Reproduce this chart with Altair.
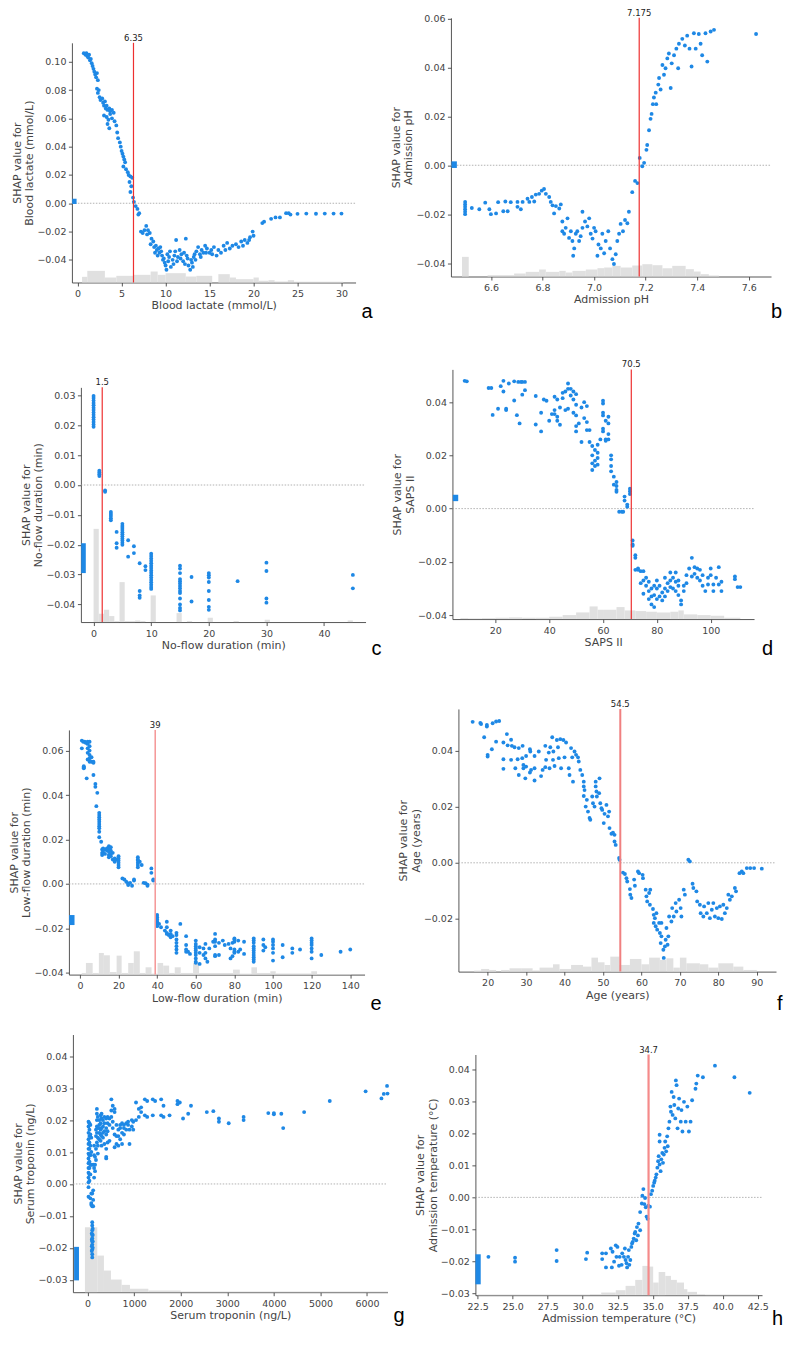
import altair as alt
import pandas as pd

BLUE = "#1E88E5"
HIST = "#e0e0e0"
INK = "#444444"

# ---------------- data ----------------
# a: Blood lactate
A_PTS = [(0.7,0.106),(0.9,0.105),(1.0,0.106),(1.1,0.104),(1.2,0.103),(1.3,0.105),(1.4,0.101),(1.5,0.102),(1.6,0.099),(1.7,0.097),
(1.8,0.095),(1.9,0.093),(2.0,0.091),(2.1,0.089),(2.2,0.092),(2.3,0.087),(2.2,0.081),(2.4,0.080),(2.3,0.078),(2.5,0.075),(2.6,0.073),
(2.8,0.074),(2.9,0.071),(3.0,0.069),(3.1,0.072),(3.2,0.067),(3.3,0.069),(3.4,0.066),(3.6,0.067),(3.7,0.065),(3.9,0.066),(4.1,0.064),
(3.0,0.062),(3.3,0.061),(3.5,0.059),(3.7,0.063),(3.4,0.056),(3.9,0.060),(4.2,0.058),(4.4,0.055),(3.6,0.053),(4.5,0.050),(4.6,0.046),
(4.8,0.043),(4.9,0.040),(5.0,0.037),(5.1,0.035),(5.2,0.033),(5.3,0.031),(5.4,0.029),(5.2,0.026),(5.5,0.024),(5.7,0.022),(5.8,0.020),
(6.0,0.019),(6.2,0.018),(5.9,0.015),(6.1,0.012),(6.0,0.008),(6.3,0.004),(6.4,0.001),(6.6,-0.002),(6.8,-0.004),(7.0,-0.007),(6.9,-0.008),
(7.2,-0.020),(7.4,-0.021),(7.6,-0.019),(7.8,-0.016),(8.0,-0.019),(8.2,-0.021),(8.4,-0.025),(8.6,-0.027),(8.7,-0.031),(8.9,-0.030),
(9.0,-0.033),(9.2,-0.032),(9.3,-0.035),(9.5,-0.034),(9.6,-0.037),(9.8,-0.039),(9.9,-0.042),(10.0,-0.044),(10.1,-0.047),(10.3,-0.041),
(10.4,-0.038),(10.6,-0.045),(10.8,-0.040),(11.0,-0.037),(11.1,-0.034),(11.2,-0.026),(11.4,-0.038),(11.6,-0.033),(11.8,-0.036),
(12.0,-0.041),(12.1,-0.035),(12.3,-0.025),(12.5,-0.039),(12.6,-0.044),(12.8,-0.047),(13.0,-0.042),(13.2,-0.038),(13.3,-0.036),
(13.5,-0.034),(13.7,-0.031),(13.9,-0.036),(14.1,-0.033),(14.3,-0.035),(14.5,-0.030),(14.7,-0.032),(15.0,-0.035),(15.2,-0.033),
(15.5,-0.031),(15.8,-0.037),(16.0,-0.033),(16.3,-0.035),(16.6,-0.030),(17.0,-0.028),(17.3,-0.032),(17.6,-0.030),(18.0,-0.029),
(18.3,-0.031),(18.6,-0.027),(19.0,-0.026),(19.3,-0.028),(19.6,-0.024),(19.9,-0.020),(20.0,-0.023),(21.0,-0.014),(21.2,-0.013),
(22.0,-0.011),(22.5,-0.010),(23.0,-0.010),(23.7,-0.007),(24.0,-0.007),(24.2,-0.008),(25.0,-0.0075),(26.0,-0.0073),(27.1,-0.0074),
(28.1,-0.0073),(29.1,-0.0073),(30.0,-0.0073),(8.8,-0.035),(9.1,-0.037),(9.4,-0.031),(9.7,-0.040),(10.2,-0.036),(10.5,-0.034),
(10.9,-0.043),(11.3,-0.041),(11.7,-0.039),(12.2,-0.043),(12.4,-0.037),(12.9,-0.040),(13.1,-0.045),(13.4,-0.040),(14.0,-0.038),
(14.6,-0.035),(15.3,-0.036),(16.8,-0.033),(18.8,-0.030),(19.5,-0.026),(7.9,-0.022),(8.3,-0.029)]
A_HIST = [(0.5,1.1,17),(1.1,3.1,35),(3.1,4.4,15),(4.4,6.3,20),(6.3,8.3,23),(8.3,9.1,33),(9.1,10,23),(10,12.3,28),(12.3,13.5,18),
(13.5,15.3,20),(16,17.3,25),(17.3,18,15),(18,20,10),(20,20.6,15),(20.6,21.7,5),(21.7,22.4,7),(22.4,23.9,3),(23.9,24.6,7),(24.6,30.2,2)]
A_NAN = [(-0.62, -0.12, -0.0005, 0.0032)]

# b: Admission pH
B_PTS = [(6.50,-0.015),(6.50,-0.016),(6.50,-0.017),(6.50,-0.018),(6.50,-0.019),(6.50,-0.020),(6.526,-0.0175),(6.555,-0.018),
(6.578,-0.0153),(6.594,-0.018),(6.60,-0.020),(6.62,-0.0197),(6.628,-0.0151),(6.648,-0.0188),(6.656,-0.0148),(6.665,-0.0188),
(6.677,-0.0151),(6.703,-0.015),(6.703,-0.017),(6.716,-0.018),(6.723,-0.015),(6.742,-0.0137),(6.749,-0.015),(6.759,-0.013),
(6.768,-0.0148),(6.774,-0.012),(6.787,-0.0117),(6.797,-0.0104),(6.806,-0.0097),(6.813,-0.0117),(6.826,-0.013),(6.832,-0.015),
(6.839,-0.0164),(6.845,-0.0197),(6.852,-0.0167),(6.865,-0.0177),(6.871,-0.016),(6.877,-0.023),(6.877,-0.027),(6.884,-0.028),
(6.890,-0.0256),(6.897,-0.0217),(6.903,-0.0297),(6.910,-0.027),(6.916,-0.031),(6.919,-0.037),(6.923,-0.034),(6.929,-0.028),
(6.935,-0.027),(6.942,-0.031),(6.948,-0.029),(6.955,-0.019),(6.955,-0.0256),(6.965,-0.023),(6.974,-0.025),(6.981,-0.0217),
(6.987,-0.028),(6.994,-0.030),(7.0,-0.0256),(7.006,-0.027),(7.013,-0.037),(7.017,-0.0324),(7.026,-0.034),(7.032,-0.028),
(7.039,-0.036),(7.045,-0.031),(7.055,-0.027),(7.062,-0.034),(7.071,-0.0384),(7.077,-0.0404),(7.084,-0.0364),(7.090,-0.031),
(7.097,-0.028),(7.103,-0.024),(7.112,-0.027),(7.120,-0.0224),(7.129,-0.0237),(7.135,-0.019),(7.148,-0.011),(7.159,-0.0064),
(7.168,-0.0073),(7.177,0.003),(7.187,-0.0004),(7.194,0.001),(7.203,0.0063),(7.206,0.0083),(7.213,0.0143),(7.219,0.019),
(7.223,0.021),(7.228,0.025),(7.232,0.0277),(7.239,0.0297),(7.241,0.025),(7.249,0.033),(7.252,0.0357),(7.258,0.031),(7.265,0.041),
(7.271,0.037),(7.277,0.0397),(7.284,0.0437),(7.290,0.0457),(7.297,0.0316),(7.301,0.0417),(7.310,0.045),(7.319,0.0477),(7.326,0.0397),
(7.329,0.0497),(7.342,0.0517),(7.352,0.049),(7.361,0.053),(7.370,0.0477),(7.378,0.0404),(7.387,0.054),(7.394,0.0477),(7.406,0.0537),
(7.413,0.0497),(7.419,0.045),(7.432,0.054),(7.439,0.0424),(7.452,0.0547),(7.465,0.0554),(7.628,0.0537)]
B_HIST = [(6.488,6.514,59),(6.587,6.69,4),(6.69,6.735,9),(6.735,6.787,14),(6.787,6.813,21),(6.813,6.865,14),(6.865,6.89,17),
(6.89,6.916,12),(6.916,6.968,17),(6.968,7.013,21),(7.013,7.039,25),(7.039,7.071,27),(7.071,7.103,32),(7.103,7.148,27),
(7.148,7.187,33),(7.187,7.226,37),(7.226,7.265,34),(7.265,7.303,25),(7.303,7.355,32),(7.355,7.387,22),(7.387,7.413,15),
(7.413,7.445,7),(7.445,7.484,3)]
B_NAN = [(6.447, 6.468, -0.0011, 0.0016)]

# c: No-flow duration
C_COLS = {0: [0.0195,0.0203,0.0211,0.0219,0.0227,0.0235,0.0243,0.0251,0.0259,0.0267,0.0275,0.0283,0.0291,0.0298],
1: [0.0030,0.0036,0.0042,0.0048], 2: [-0.0018,-0.0023], 3: [-0.0090,-0.0097,-0.0104,-0.0111,-0.0118],
4: [-0.0157,-0.0195,-0.0210], 5: [-0.0130,-0.0137,-0.0144,-0.0151,-0.0158,-0.0165,-0.0172,-0.0179,-0.0186,-0.0193,-0.0200],
6: [-0.0185,-0.0240], 7: [-0.0205,-0.0228], 8: [-0.0262,-0.0355,-0.0370,-0.0378], 9: [-0.0272,-0.0285],
10: [-0.0230,-0.0238,-0.0246,-0.0254,-0.0262,-0.0270,-0.0278,-0.0286,-0.0294,-0.0302,-0.0310,-0.0318,-0.0326,-0.0334,-0.0342,-0.0348],
15: [-0.0270,-0.0280,-0.0295,-0.0315,-0.0322,-0.0330,-0.0338,-0.0346,-0.0355,-0.0362,-0.0380,-0.0400,-0.0412,-0.0420],
17: [-0.0308,-0.0390], 20: [-0.0295,-0.0302,-0.0310,-0.0325,-0.0355,-0.0385,-0.0408,-0.0418], 25: [-0.0322],
30: [-0.0260,-0.0288,-0.0380,-0.0394], 45: [-0.0301,-0.0346]}
C_HIST = [(0,0.9,280),(0.9,1.8,25),(1.8,2.7,37),(2.7,3.6,18),(3.6,4.5,3),(4.5,5.4,120),(5.4,6.3,3),(6.3,7.2,3),(7.2,8.1,5),
(8.1,9.0,3),(9.9,10.8,80),(14.4,15.3,27),(16.2,17.1,3),(19.8,20.7,13),(24.3,25.2,3),(29.7,30.6,7),(44.1,45.0,5)]
C_NAN = [(-2.15, -1.35, -0.0295, -0.0195)]

# d: SAPS II
D_PTS = [(8.6,0.048),(9.4,0.0478),(17.5,0.0453),(18.5,0.0453),(19,0.0352),(21,0.0375),(22,0.046),(23,0.048),(23,0.044),(24,0.037),
(24,0.0375),(25,0.047),(27,0.0478),(27,0.0406),(28,0.0351),(28.5,0.0476),(29,0.032),(29.5,0.0476),(30,0.0476),(31,0.0476),(30,0.0428),
(31,0.0445),(35,0.0423),(35,0.0316),(37,0.036),(37,0.029),(38,0.041),(39,0.0405),(40,0.033),(41,0.0355),(42,0.042),(42,0.0355),
(42,0.037),(43,0.041),(43,0.033),(43,0.0345),(44,0.0315),(44,0.038),(45,0.0415),(45,0.0435),(46,0.044),(46,0.037),(47,0.047),
(47,0.045),(47,0.0375),(48,0.045),(48,0.0425),(49,0.041),(49,0.036),(49,0.044),(50,0.043),(50,0.039),(50,0.035),(50,0.031),(50,0.029),
(51,0.032),(52,0.038),(52,0.025),(53,0.034),(53,0.040),(54,0.0385),(54,0.0325),(54,0.0295),(55,0.025),(55,0.0295),(56,0.0235),
(56,0.020),(56,0.017),(56,0.0145),(57,0.022),(57,0.018),(57,0.016),(58,0.024),(58,0.021),(58,0.019),(58,0.0165),(59,0.026),
(60,0.0405),(60,0.0395),(60,0.036),(60,0.035),(60,0.029),(60,0.030),(61,0.033),(61,0.026),(61,0.0255),(62,0.0345),(62,0.032),
(62,0.028),(62,0.026),(63,0.020),(63,0.0185),(63,0.016),(63,0.014),(64,0.012),(64,0.009),(65,0.0085),(65,0.007),(65,0.0063),
(65,0.010),(66,-0.0012),(67,-0.0012),(67.5,-0.0012),(68,0.0045),(68,0.003),(69,0.0007),(69,0.0015),(70,0.0075),(70,0.0065),
(70,0.0055),(71,-0.012),(71,-0.0135),(71,-0.014),(72,-0.0185),(72,-0.0175),(72,-0.023),(73,-0.023),(73,-0.0225),(74,-0.0235),
(74,-0.028),(75,-0.0235),(75,-0.027),(75,-0.032),(76,-0.026),(76,-0.029),(77,-0.0275),(77,-0.031),(77,-0.034),(78,-0.030),
(78,-0.033),(78,-0.036),(79,-0.029),(79,-0.0325),(79,-0.037),(80,-0.027),(80,-0.030),(80,-0.034),(81,-0.029),(81,-0.033),
(82,-0.0315),(82,-0.0345),(83,-0.026),(83,-0.030),(83,-0.033),(84,-0.028),(84,-0.031),(85,-0.024),(85,-0.027),(85,-0.0295),
(86,-0.026),(86,-0.030),(87,-0.024),(87,-0.0275),(87,-0.031),(88,-0.027),(88,-0.029),(88,-0.0325),(89,-0.0345),(89,-0.036),
(90,-0.031),(90,-0.029),(91,-0.028),(91,-0.025),(92,-0.0225),(93,-0.0185),(93,-0.0255),(94,-0.0245),(94,-0.022),(95,-0.0225),
(95,-0.026),(96,-0.027),(96,-0.023),(97,-0.025),(97,-0.029),(98,-0.031),(99,-0.026),(99,-0.0285),(100,-0.0225),(100,-0.025),
(101,-0.0285),(101,-0.031),(102,-0.026),(103,-0.022),(103,-0.0285),(104,-0.031),(104,-0.0275),(109,-0.0265),(109,-0.0255),
(110,-0.0295),(111,-0.0295)]
D_HIST = [(7,10,3),(10,15,2),(15,20,3),(20,25,4),(25,30,5),(30,35,4),(35,40,4),(40,45,7),(45,50,12),(50,55,20),(55,58,38),
(58,60,28),(60,65,28),(65,68,36),(68,72,26),(72,76,24),(76,80,22),(80,85,20),(85,88,22),(88,90,26),(90,95,14),(95,100,12),
(100,105,10),(105,111,4)]
D_NAN = [(4.2, 6.2, 0.0028, 0.0052)]

# e: Low-flow duration
E_COLS = {1: [0.0645,0.061], 1.7: [0.064], 2: [0.0525,0.052,0.053], 2.5: [0.064], 3: [0.0635], 3.5: [0.0475],
4: [0.063,0.064,0.061,0.059,0.056], 5: [0.064,0.062,0.060,0.058,0.0565,0.055], 6: [0.057,0.055], 7: [0.049,0.055,0.0545],
8: [0.045,0.0437], 9: [0.041], 8.5: [0.035], 10: [0.032,0.031,0.030,0.029,0.028,0.027,0.026,0.025,0.0235,0.021], 11: [0.019],
11.5: [0.0155,0.014,0.013], 12: [0.016,0.015,0.014], 13: [0.0155,0.0135], 14: [0.015,0.016], 15: [0.017,0.016,0.0145,0.013,0.012],
16: [0.0165,0.015,0.0135,0.0125], 17: [0.014,0.011], 18: [0.0105,0.010,0.0115], 19: [0.011],
20: [0.0125,0.0115,0.0105,0.0095,0.0085,0.0075], 22: [0.0025], 23: [0.002], 24: [0.001], 25: [0.0002,-0.0005], 26: [0.0005],
27: [-0.0008], 28: [0.0015,0.002], 30: [0.012,0.011,0.0105,0.0095,0.0085,0.0075], 31: [0.010], 32: [0.0085], 33: [0.0005],
34: [0.0003], 35: [-0.0008,-0.0003], 37: [0.007,0.005], 38: [0.0015,0.002], 40: [-0.014,-0.015,-0.016,-0.017,-0.0175,-0.018,-0.019],
41: [-0.018], 42: [-0.0195], 44: [-0.021], 45: [-0.017,-0.0195,-0.022,-0.0225], 46: [-0.023], 47: [-0.021,-0.0225,-0.024],
48: [-0.0235], 50: [-0.022,-0.023,-0.025,-0.0265,-0.028,-0.0295,-0.031], 52: [-0.018], 55: [-0.0235,-0.0275,-0.0295,-0.0305],
56: [-0.0305], 57: [-0.0315], 60: [-0.0255,-0.027,-0.028,-0.029,-0.030,-0.031,-0.032,-0.0335,-0.035,-0.0355],
62: [-0.036,-0.031,-0.0285], 64: [-0.029,-0.032], 65: [-0.0335,-0.031,-0.027], 66: [-0.035], 67: [-0.029], 69: [-0.026],
70: [-0.0225,-0.025,-0.026,-0.028,-0.032,-0.0325], 72: [-0.0265,-0.032], 74: [-0.0255], 75: [-0.0275], 77: [-0.027],
78: [-0.029,-0.0335], 79: [-0.0265,-0.0325], 80: [-0.0245,-0.025,-0.026,-0.0295,-0.0305,-0.031], 82: [-0.0255,-0.0305],
83: [-0.0295], 85: [-0.026,-0.0315], 90: [-0.0245,-0.0255,-0.0265,-0.028,-0.029,-0.030,-0.031,-0.032,-0.033,-0.034,-0.035],
95: [-0.025,-0.0275,-0.030], 96: [-0.0285], 100: [-0.025,-0.026,-0.0275,-0.029,-0.031,-0.0345], 105: [-0.0275,-0.033],
110: [-0.029,-0.031], 114: [-0.0295], 120: [-0.0245,-0.0255,-0.0265,-0.0275,-0.029,-0.0305,-0.0335], 125: [-0.032],
135: [-0.0305], 140: [-0.0295]}
E_HIST = [(0.9,3.1,5),(3.1,6.6,35),(6.6,9.8,5),(9.8,12.4,65),(12.4,15.5,58),(15.5,19.0,8),(19.0,21.6,57),(21.6,25.0,5),
(25.0,27.9,35),(27.9,31.0,70),(31.0,34.0,5),(34.0,37.1,22),(37.1,40.2,3),(40.2,43.1,35),(43.1,46.2,27),(46.2,49.1,5),
(49.1,52.2,22),(52.2,58.6,5),(58.6,61.7,35),(61.7,79.3,5),(79.3,82.8,15),(82.8,88.8,3),(88.8,91.7,22),(91.7,98.6,5),
(98.6,101.4,10),(101.4,119.8,3),(119.8,122.8,10),(122.8,140.5,2)]
E_NAN = [(-5.6, -2.8, -0.0185, -0.0140)]

# f: Age
F_PTS = [(16.1,0.0504),(18.1,0.050),(18.3,0.0496),(19.1,0.0449),(19.8,0.0487),(19.8,0.0493),(20,0.0386),(20,0.038),(21.1,0.0406),
(21.3,0.0499),(22.2,0.0433),(22.2,0.0505),(23,0.0507),(24.1,0.037),(24.1,0.0336),(24.1,0.043),(25,0.046),(25.2,0.042),(26.1,0.044),
(26.1,0.0368),(26.3,0.0418),(27,0.0413),(27.2,0.0338),(27.8,0.037),(28.1,0.0314),(28.1,0.041),(29,0.0374),(29.1,0.0418),(29.3,0.035),
(29.3,0.0338),(29.8,0.0302),(30,0.0382),(30,0.0344),(31.0,0.0406),(31.1,0.0398),(31,0.0323),(31.3,0.0332),(32.2,0.0382),
(32.2,0.0294),(32.2,0.0338),(33.3,0.0398),(33.9,0.031),(34.3,0.0332),(35,0.0418),(35,0.0342),(35.2,0.0368),(35.9,0.0394),
(36.1,0.0338),(36.3,0.0413),(36.8,0.0449),(37,0.0368),(37.1,0.0398),(37.4,0.0346),(38,0.0439),(38.3,0.0413),(38.5,0.0374),
(38.9,0.0442),(39.1,0.0338),(39.7,0.0439),(40,0.0377),(40.4,0.043),(41.1,0.0338),(41.3,0.0314),(41.7,0.041),(42,0.0377),
(42.2,0.029),(42.6,0.0398),(43,0.0386),(43.5,0.0377),(43.7,0.0362),(44.1,0.0332),(44.6,0.0314),(45,0.029),(45,0.0239),(45,0.0273),
(45.2,0.026),(45.5,0.0201),(45.8,0.0225),(46.1,0.0183),(46.5,0.016),(46.7,0.0154),(47.2,0.0237),(47.4,0.0213),(47.8,0.0201),
(48.1,0.029),(48.1,0.0273),(48.3,0.0255),(48.4,0.0237),(49,0.0249),(49.1,0.0302),(49.3,0.0213),(49.6,0.0195),(49.8,0.0189),
(50.2,0.0142),(50.4,0.0175),(50.9,0.0207),(51.3,0.0166),(51.6,0.0183),(51.7,0.0124),(52.2,0.0104),(52.6,0.0108),(53,0.010),
(53,0.0076),(53.3,0.0064),(54.2,0.0017),(54.3,0.0011),(55.2,-0.0035),(55.7,-0.004),(56.1,-0.0055),(56.3,-0.0067),(57,-0.0094),
(57.1,-0.0114),(57.4,-0.0126),(58.1,-0.006),(58.3,-0.0082),(59.1,-0.0031),(59.4,-0.0037),(60.3,-0.0043),(60.4,-0.0055),
(61.1,-0.0096),(61.3,-0.012),(61.5,-0.0138),(62,-0.0108),(62.2,-0.015),(62.3,-0.0096),(63,-0.0165),(63.2,-0.0186),(63.2,-0.0215),
(63.5,-0.0198),(63.7,-0.0227),(63.9,-0.018),(64.1,-0.0239),(64.6,-0.0215),(64.8,-0.0251),(65,-0.0287),(65.2,-0.0215),
(65.2,-0.0263),(65.7,-0.0311),(65.8,-0.034),(66.1,-0.0299),(66.3,-0.0275),(66.5,-0.0233),(66.8,-0.0293),(67,-0.0263),
(67.2,-0.0192),(67.8,-0.021),(68,-0.0162),(68.4,-0.0192),(68.9,-0.0144),(69.1,-0.0174),(69.8,-0.0132),(70.2,-0.0162),
(70.4,-0.0192),(71,-0.0096),(71.3,-0.0114),(72.2,0.0011),(72.6,0.0005),(73.3,-0.0075),(73.5,-0.009),(74.3,-0.0102),
(74.5,-0.0138),(75.2,-0.015),(75.4,-0.018),(76.1,-0.0192),(76.3,-0.0156),(77,-0.018),(77.4,-0.0144),(77.8,-0.0198),
(78.3,-0.0168),(78.7,-0.0144),(79.1,-0.0192),(79.6,-0.0162),(80,-0.0198),(80.4,-0.0156),(80.9,-0.0201),(81.3,-0.015),
(81.7,-0.018),(82.2,-0.0162),(82.6,-0.0114),(83,-0.0132),(83.5,-0.012),(84.3,-0.009),(84.6,-0.0102),(85.5,-0.0037),
(86.1,-0.0031),(86.5,-0.0037),(87.4,-0.0019),(88.3,-0.0019),(89.3,-0.0019),(91.3,-0.0021)]
F_HIST = [(16.5,18.3,3),(18.3,20.4,8),(20.4,22.2,5),(23.5,25.7,5),(25.7,28.7,10),(28.7,31.7,10),(31.7,33.5,3),(33.5,37,12),
(37,38.7,22),(38.7,41.7,8),(41.7,44.8,20),(44.8,47,15),(47,48.7,42),(48.7,50.4,28),(50.4,51.9,20),(51.9,54.3,45),(54.3,57,20),
(57,60,38),(60,62,22),(62,64.8,42),(64.8,66.5,35),(66.5,68.3,40),(68.3,70,12),(70,71.7,42),(71.7,75.2,25),(75.2,77.4,22),
(77.4,80,12),(80,83.9,25),(83.9,86.5,15),(86.5,90,5)]
F_NAN = []

# g: Serum troponin
G_COLS = {20: [0.0195,0.018,0.016,0.014,0.0125,0.011,0.0095,0.008,0.0065,0.005,0.0035,0.002,0.0005,-0.001,-0.004],
40: [0.019,0.017,0.015,0.013,0.011,0.009,0.007,0.005,0.003,0.001], 60: [0.0185,0.0155,0.012,0.009,0.006,0.003,-0.0045],
80: [0.0145,0.010,0.006,-0.003,-0.006,-0.0065],
100: [-0.012,-0.013,-0.0145,-0.016,-0.017,-0.018,-0.019,-0.0205,-0.022,-0.023,-0.007,-0.003],
90: [-0.0155,-0.0175,-0.0195,-0.021], 120: [-0.002,-0.005,-0.007,0.006], 110: [-0.014,-0.016,-0.018,-0.020],
140: [0.002,0.005,0.009,0.012], 160: [0.006,0.004,0.0085], 180: [0.0075,0.011,0.015,0.017],
200: [0.013,0.016,0.018,0.020,0.022,0.0235], 220: [0.0095,0.012,0.0145,0.0175,0.021], 250: [0.016,0.0175,0.0185,0.020,0.014],
280: [0.0135,0.0155,0.017,0.019,0.0215], 300: [0.012,0.015,0.0175,0.0205,0.022], 330: [0.0145,0.016,0.018,0.020],
360: [0.0125,0.0165,0.019,0.021], 400: [0.011,0.008,0.0085,0.0155,0.0175,0.0205], 430: [0.013,0.0165,0.019,0.021],
470: [0.0135,0.0185,0.0205], 510: [0.021,0.023,0.0265], 540: [0.0175,0.0195,0.0245], 580: [0.0115,0.0155,0.0225,0.0235],
620: [0.0125,0.015,0.0185], 660: [0.015,0.012,0.017], 700: [0.0185,0.0175,0.014], 740: [0.016,0.019,0.0125],
780: [0.0185,0.0175,0.0155], 830: [0.017,0.019], 870: [0.0185,0.0195], 900: [0.0125,0.017], 950: [0.020,0.018],
980: [0.0195,0.017], 1040: [0.0255,0.020], 1100: [0.021,0.0235], 1150: [0.024,0.0225], 1230: [0.0265,0.0215],
1280: [0.026,0.021], 1400: [0.0265,0.0215], 1450: [0.026], 1580: [0.0265,0.0215], 1630: [0.0245,0.021], 1760: [0.0215],
1930: [0.026,0.025], 1980: [0.0255], 2050: [0.0205], 2160: [0.022], 2220: [0.0245], 2560: [0.0225], 2700: [0.0228],
2820: [0.0205,0.0195], 3030: [0.019], 3350: [0.021,0.020], 3880: [0.0222], 4000: [0.0222,0.0218], 4160: [0.022],
4200: [0.0175], 4650: [0.0225], 5200: [0.026], 5970: [0.029], 6310: [0.0268], 6360: [0.0282], 6440: [0.0283], 6430: [0.0307]}
G_HIST = [(-57,208,195),(208,351,110),(351,502,65),(502,731,38),(731,910,22),(910,1305,10),(1305,2000,5),(2000,6450,2)]
G_NAN = [(-290, -185, -0.0302, -0.0197)]

# h: Admission temperature
H_PTS = [(23.27,-0.0186),(25.17,-0.0189),(25.17,-0.0201),(28.14,-0.0165),(28.14,-0.0199),(30.23,-0.0193),(30.32,-0.0173),
(31.39,-0.0175),(31.39,-0.0193),(31.66,-0.0175),(31.66,-0.0219),(32.01,-0.016),(32.08,-0.0219),(32.13,-0.017),(32.24,-0.0201),
(32.36,-0.015),(32.41,-0.0186),(32.48,-0.0155),(32.59,-0.0214),(32.64,-0.0186),(32.78,-0.0211),(32.82,-0.0175),(32.94,-0.0186),
(33.01,-0.016),(33.06,-0.0196),(33.13,-0.0206),(33.17,-0.0219),(33.24,-0.0186),(33.29,-0.0165),(33.33,-0.0211),(33.4,-0.0196),
(33.47,-0.0155),(33.52,-0.0144),(33.57,-0.0139),(33.64,-0.0129),(33.71,-0.0113),(33.75,-0.0108),(33.82,-0.0134),(33.87,-0.0093),
(33.94,-0.0119),(33.98,-0.0082),(34.1,-0.0103),(34.1,-0.0046),(34.22,-0.0019),(34.26,0.0005),(34.33,0.0026),(34.4,-0.0021),
(34.45,-0.0002),(34.5,-0.0031),(34.56,-0.006),(34.63,-0.0067),(34.68,-0.0026),(34.8,-0.0029),(34.87,0.001),(34.96,0.0021),
(35.03,0.0036),(35.1,0.0046),(35.14,0.0052),(35.21,0.0062),(35.26,0.0072),(35.33,0.0093),(35.38,0.0113),(35.42,0.0129),
(35.49,0.0103),(35.49,0.0175),(35.49,0.0196),(35.56,0.0082),(35.61,0.0119),(35.68,0.0139),(35.73,0.0108),(35.79,0.0134),
(35.84,0.0155),(35.89,0.0175),(35.96,0.0144),(36.03,0.0191),(36.07,0.016),(36.12,0.0216),(36.19,0.0237),(36.26,0.0284),
(36.3,0.0268),(36.35,0.033),(36.42,0.0258),(36.49,0.0314),(36.54,0.0289),(36.61,0.0247),(36.65,0.0366),(36.7,0.0351),
(36.77,0.0216),(36.82,0.0278),(36.88,0.0309),(37.0,0.0237),(37.05,0.0273),(37.12,0.0206),(37.23,0.0299),(37.35,0.0237),
(37.47,0.0284),(37.58,0.0206),(37.7,0.0237),(37.81,0.0304),(38.05,0.034),(38.11,0.0356),(38.21,0.0381),(38.58,0.0376),
(39.44,0.0412),(40.83,0.0376),(41.92,0.0327)]
H_HIST = [(22.5,30.5,2),(30.5,31.32,3),(31.32,32.36,8),(32.36,33.06,15),(33.06,33.75,28),(33.75,34.26,46),(34.26,34.73,88),
(34.73,35.03,86),(35.03,35.42,38),(35.42,35.89,70),(35.89,36.3,58),(36.3,36.72,46),(36.72,37.23,38),(37.23,37.47,18),
(37.47,38.16,10),(38.16,38.74,3),(38.74,42.5,2)]
H_NAN = [(22.34, 22.72, -0.0272, -0.0178)]


def from_cols(cols):
    return [(x, y) for x, ys in cols.items() for y in ys]


# grid cells (2 columns x 4 rows), each panel's plot box placed inside its cell
COL_W = [400, 376]
ROW_H = [322, 330, 333, 336]

PANELS = [
    dict(k="a", pts=A_PTS, hist=A_HIST, nan=A_NAN, xdom=[-0.65, 31.6], ydom=[-0.056, 0.1134], L=64, T=34, W=284, H=240,
         xticks=[0, 5, 10, 15, 20, 25, 30], yticks=[-0.04, -0.02, 0.0, 0.02, 0.04, 0.06, 0.08, 0.10],
         xfmt="d", title="Blood lactate (mmol/L)", thr=6.35, thr_lab="6.35", red="#ee3030", rw=1.2, lx=6, ly=36),
    dict(k="b", pts=B_PTS, hist=B_HIST, nan=B_NAN, xdom=[6.445, 7.686], ydom=[-0.0455, 0.0603], L=43.5, T=9, W=320.5, H=259,
         xticks=[6.6, 6.8, 7.0, 7.2, 7.4, 7.6], yticks=[-0.04, -0.02, 0.0, 0.02, 0.04, 0.06],
         xfmt=".1f", title="Admission pH", thr=7.175, thr_lab="7.175", red="#ee3030", rw=1.2, lx=0, ly=42),
    dict(k="c", pts=from_cols(C_COLS), hist=C_HIST, nan=C_NAN, xdom=[-2.2, 47.2], ydom=[-0.0459, 0.0327], L=73, T=57, W=285, H=235,
         xticks=[0, 10, 20, 30, 40], yticks=[-0.04, -0.03, -0.02, -0.01, 0.0, 0.01, 0.02, 0.03],
         xfmt="d", title="No-flow duration (min)", thr=1.5, thr_lab="1.5", red="#ee3030", rw=1.2, lx=6, ly=33),
    dict(k="d", pts=D_PTS, hist=D_HIST, nan=D_NAN, xdom=[4.05, 116.1], ydom=[-0.0415, 0.0523], L=45, T=39, W=302, H=250,
         xticks=[20, 40, 60, 80, 100], yticks=[-0.04, -0.02, 0.0, 0.02, 0.04],
         xfmt="d", title="SAPS II", thr=70.5, thr_lab="70.5", red="#ee3030", rw=1.2, lx=8, ly=36),
    dict(k="e", pts=from_cols(E_COLS), hist=E_HIST, nan=E_NAN, xdom=[-5.7, 147.4], ydom=[-0.0408, 0.0693], L=61, T=70, W=296, H=245,
         xticks=[0, 20, 40, 60, 80, 100, 120, 140], yticks=[-0.04, -0.02, 0.0, 0.02, 0.04, 0.06],
         xfmt="d", title="Low-flow duration (min)", thr=39, thr_lab="39", red="#f59a9a", rw=1.6, lx=6, ly=35),
    dict(k="f", pts=F_PTS, hist=F_HIST, nan=F_NAN, xdom=[12.4, 95.0], ydom=[-0.0389, 0.055], L=51, T=49, W=318, H=263,
         xticks=[20, 30, 40, 50, 60, 70, 80, 90], yticks=[-0.02, 0.0, 0.02, 0.04],
         xfmt="d", title="Age (years)", thr=54.5, thr_lab="54.5", red="#f08080", rw=2.0, lx=1, ly=38),
    dict(k="g", pts=from_cols(G_COLS), hist=G_HIST, nan=G_NAN, xdom=[-315, 6440], ydom=[-0.0339, 0.0468], L=65, T=42, W=315, H=258,
         xticks=[0, 1000, 2000, 3000, 4000, 5000, 6000], yticks=[-0.03, -0.02, -0.01, 0.0, 0.01, 0.02, 0.03, 0.04],
         xfmt="d", title="Serum troponin (ng/L)", thr=None, thr_lab="", red="#ee3030", rw=1.2, lx=6, ly=30),
    dict(k="h", pts=H_PTS, hist=H_HIST, nan=H_NAN, xdom=[22.34, 42.8], ydom=[-0.0306, 0.0447], L=68, T=62, W=287, H=241,
         xticks=[22.5, 25.0, 27.5, 30.0, 32.5, 35.0, 37.5, 40.0, 42.5],
         yticks=[-0.03, -0.02, -0.01, 0.0, 0.01, 0.02, 0.03, 0.04],
         xfmt=".1f", title="Admission temperature (°C)", thr=34.7, thr_lab="34.7", red="#f58a8a", rw=2.2, lx=10, ly=30),
]


def panel(i):
    p = PANELS[i]
    cw, ch = COL_W[i % 2], ROW_H[i // 2]
    L, T, W, H = p["L"], p["T"], p["W"], p["H"]
    xs = alt.Scale(domain=p["xdom"], range=[L, L + W], nice=False, zero=False)
    ys = alt.Scale(domain=p["ydom"], range=[T + H, T], nice=False, zero=False)
    xax = alt.Axis(title=p["title"], values=p["xticks"], format=p["xfmt"], offset=-(ch - T - H))

    def X(field):
        return alt.X(field, scale=xs, axis=xax)

    pts = pd.DataFrame(p["pts"], columns=["v", "s"])
    hist = pd.DataFrame(p["hist"], columns=["x0", "x1", "c"])
    layers = [
        alt.Chart(hist).mark_rect(color=HIST).encode(
            x=X("x0:Q"), x2="x1:Q",
            y=alt.Y("c:Q", scale=alt.Scale(domain=[0, 3 * H], range=[T + H, T]), axis=None), y2=alt.datum(0)),
        alt.Chart(pd.DataFrame({"z": [0.0]})).mark_rule(color="#a0a0a0", strokeDash=[1.5, 1.5], strokeWidth=0.8).encode(
            y=alt.Y("z:Q", scale=ys, axis=None), x=alt.value(L), x2=alt.value(L + W)),
    ]
    if p["nan"]:
        nan = pd.DataFrame(p["nan"], columns=["x0", "x1", "y0", "y1"])
        layers.append(alt.Chart(nan).mark_rect(color=BLUE).encode(
            x=X("x0:Q"), x2="x1:Q",
            y=alt.Y("y0:Q", scale=ys, axis=None), y2="y1:Q"))
    layers.append(alt.Chart(pts).mark_circle(size=15, color=BLUE, opacity=1).encode(
        x=X("v:Q"),
        y=alt.Y("s:Q", scale=ys, axis=alt.Axis(title=["SHAP value for", p["title"]], values=p["yticks"],
                                               format=".2f", offset=-L))))
    if p["thr"] is not None:
        thr = pd.DataFrame({"t": [p["thr"]], "lab": [p["thr_lab"]]})
        layers.append(alt.Chart(thr).mark_rule(color=p["red"], strokeWidth=p["rw"]).encode(
            x=X("t:Q"), y=alt.value(T), y2=alt.value(T + H)))
        layers.append(alt.Chart(thr).mark_text(baseline="alphabetic", fontSize=8.5, font="DejaVu Sans", color="#222").encode(
            x=X("t:Q"), y=alt.value(T - 2), text="lab:N"))
    layers.append(alt.Chart(pd.DataFrame({"l": [p["k"]]})).mark_text(
        align="left", baseline="alphabetic", fontSize=20, font="Liberation Sans", color="#000").encode(
        x=alt.value(L + W + p["lx"]), y=alt.value(T + H + p["ly"]), text="l:N"))
    return alt.layer(*layers).resolve_scale(y="independent").properties(width=cw, height=ch)


chart = alt.concat(*[panel(i) for i in range(8)], columns=2, spacing=0, bounds="flush").properties(
    padding=0, background="white"
).configure_view(stroke=None).configure_axis(
    domainColor=INK, domainWidth=0.9, tickColor=INK, tickWidth=0.9, tickSize=3.5,
    labelColor=INK, labelFont="DejaVu Sans", labelFontSize=9.5, labelPadding=2.5,
    titleFont="DejaVu Sans", titleFontSize=11, titleFontWeight="normal", titleColor=INK,
    titlePadding=2, titleLineHeight=12.5, grid=False, labelFlush=False, labelOverlap=False
)

chart.save("out.html", embed_options={"renderer": "svg", "actions": False})
